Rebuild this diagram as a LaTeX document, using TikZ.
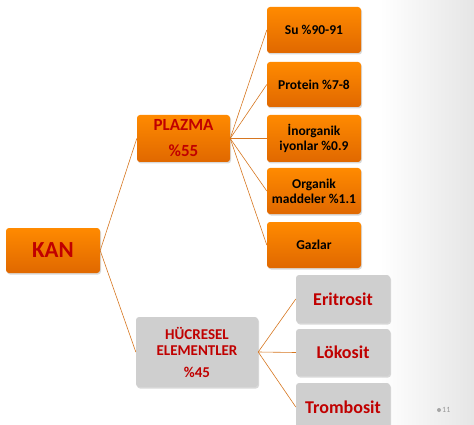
\documentclass[tikz,border=0pt]{standalone}
\usepackage{fontspec}
\setmainfont{Carlito}
\usetikzlibrary{shadows}

\definecolor{kanred}{RGB}{192,0,0}
\definecolor{orangetop}{RGB}{255,138,0}
\definecolor{orangebot}{RGB}{224,104,0}
\definecolor{boxgray}{RGB}{207,207,207}
\definecolor{linkorange}{RGB}{214,118,32}

\tikzset{
  orangebox/.style={rounded corners=3pt, top color=orangetop, bottom color=orangebot,
    drop shadow={shadow xshift=1pt, shadow yshift=-1.5pt, opacity=0.3},
    align=center, inner sep=2pt, minimum width=94pt},
  graybox/.style={rounded corners=3pt, fill=boxgray,
    drop shadow={shadow xshift=1pt, shadow yshift=-1.5pt, opacity=0.3},
    align=center, inner sep=2pt, text=kanred},
  smalltext/.style={font=\fontsize{13.5}{15}\selectfont\bfseries},
  link/.style={draw=linkorange, line width=0.6pt}
}

\begin{document}
\begin{tikzpicture}[x=1pt,y=-1pt]
    \useasboundingbox (0,0) rectangle (474,425);

    % Background
    \shade[left color=white, right color=black!10] (380,0) rectangle (474,425);

    % Root
    \node[orangebox, text=kanred, minimum height=45pt, font=\fontsize{23}{26}\selectfont\bfseries] (kan) at (53,250.5) {KAN};

    % Plazma branch
    \node[orangebox, text=kanred, minimum width=93pt, minimum height=47pt, font=\fontsize{17}{20}\selectfont\bfseries] (plazma) at (183.5,138.5) {PLAZMA\\[6pt]\%55};

    \node[orangebox, smalltext, minimum height=46pt] (su) at (314,30) {Su \%90-91};
    \node[orangebox, smalltext, minimum height=45pt] (protein) at (314,84.5) {Protein \%7-8};
    \node[orangebox, smalltext, minimum height=47pt] (inorg) at (314,138.5) {İnorganik\\iyonlar \%0.9};
    \node[orangebox, smalltext, minimum height=46pt] (organik) at (314,191) {Organik\\maddeler \%1.1};
    \node[orangebox, smalltext, minimum height=46pt] (gazlar) at (314,245) {Gazlar};

    % Hucresel branch
    \node[graybox, minimum width=122pt, minimum height=70pt, font=\fontsize{15}{16.5}\selectfont\bfseries] (hucre) at (197,352) {HÜCRESEL\\ELEMENTLER\\[5pt]\%45};

    \node[graybox, minimum width=94pt, minimum height=48pt, font=\fontsize{18}{20}\selectfont\bfseries] (eritro) at (343,299) {Eritrosit};
    \node[graybox, minimum width=94pt, minimum height=47pt, font=\fontsize{18}{20}\selectfont\bfseries] (loko) at (343,352.5) {Lökosit};
    \node[graybox, minimum width=94pt, minimum height=48pt, font=\fontsize{18}{20}\selectfont\bfseries] (trombo) at (343,407) {Trombosit};

    % Connectors
    \draw[link] (kan.east) -- (plazma.west);
    \draw[link] (kan.east) -- (hucre.west);
    \foreach \n in {su,protein,inorg,organik,gazlar}
        \draw[link] (plazma.east) -- (\n.west);
    \foreach \n in {eritro,loko,trombo}
        \draw[link] (hucre.east) -- (\n.west);

    % Page number
    \fill[black!35] (439,410) circle (2pt);
    \node[text=black!40, font=\fontsize{8}{9}\selectfont, anchor=west, inner sep=0pt] (page) at (442,410) {11};
\end{tikzpicture}
\end{document}
